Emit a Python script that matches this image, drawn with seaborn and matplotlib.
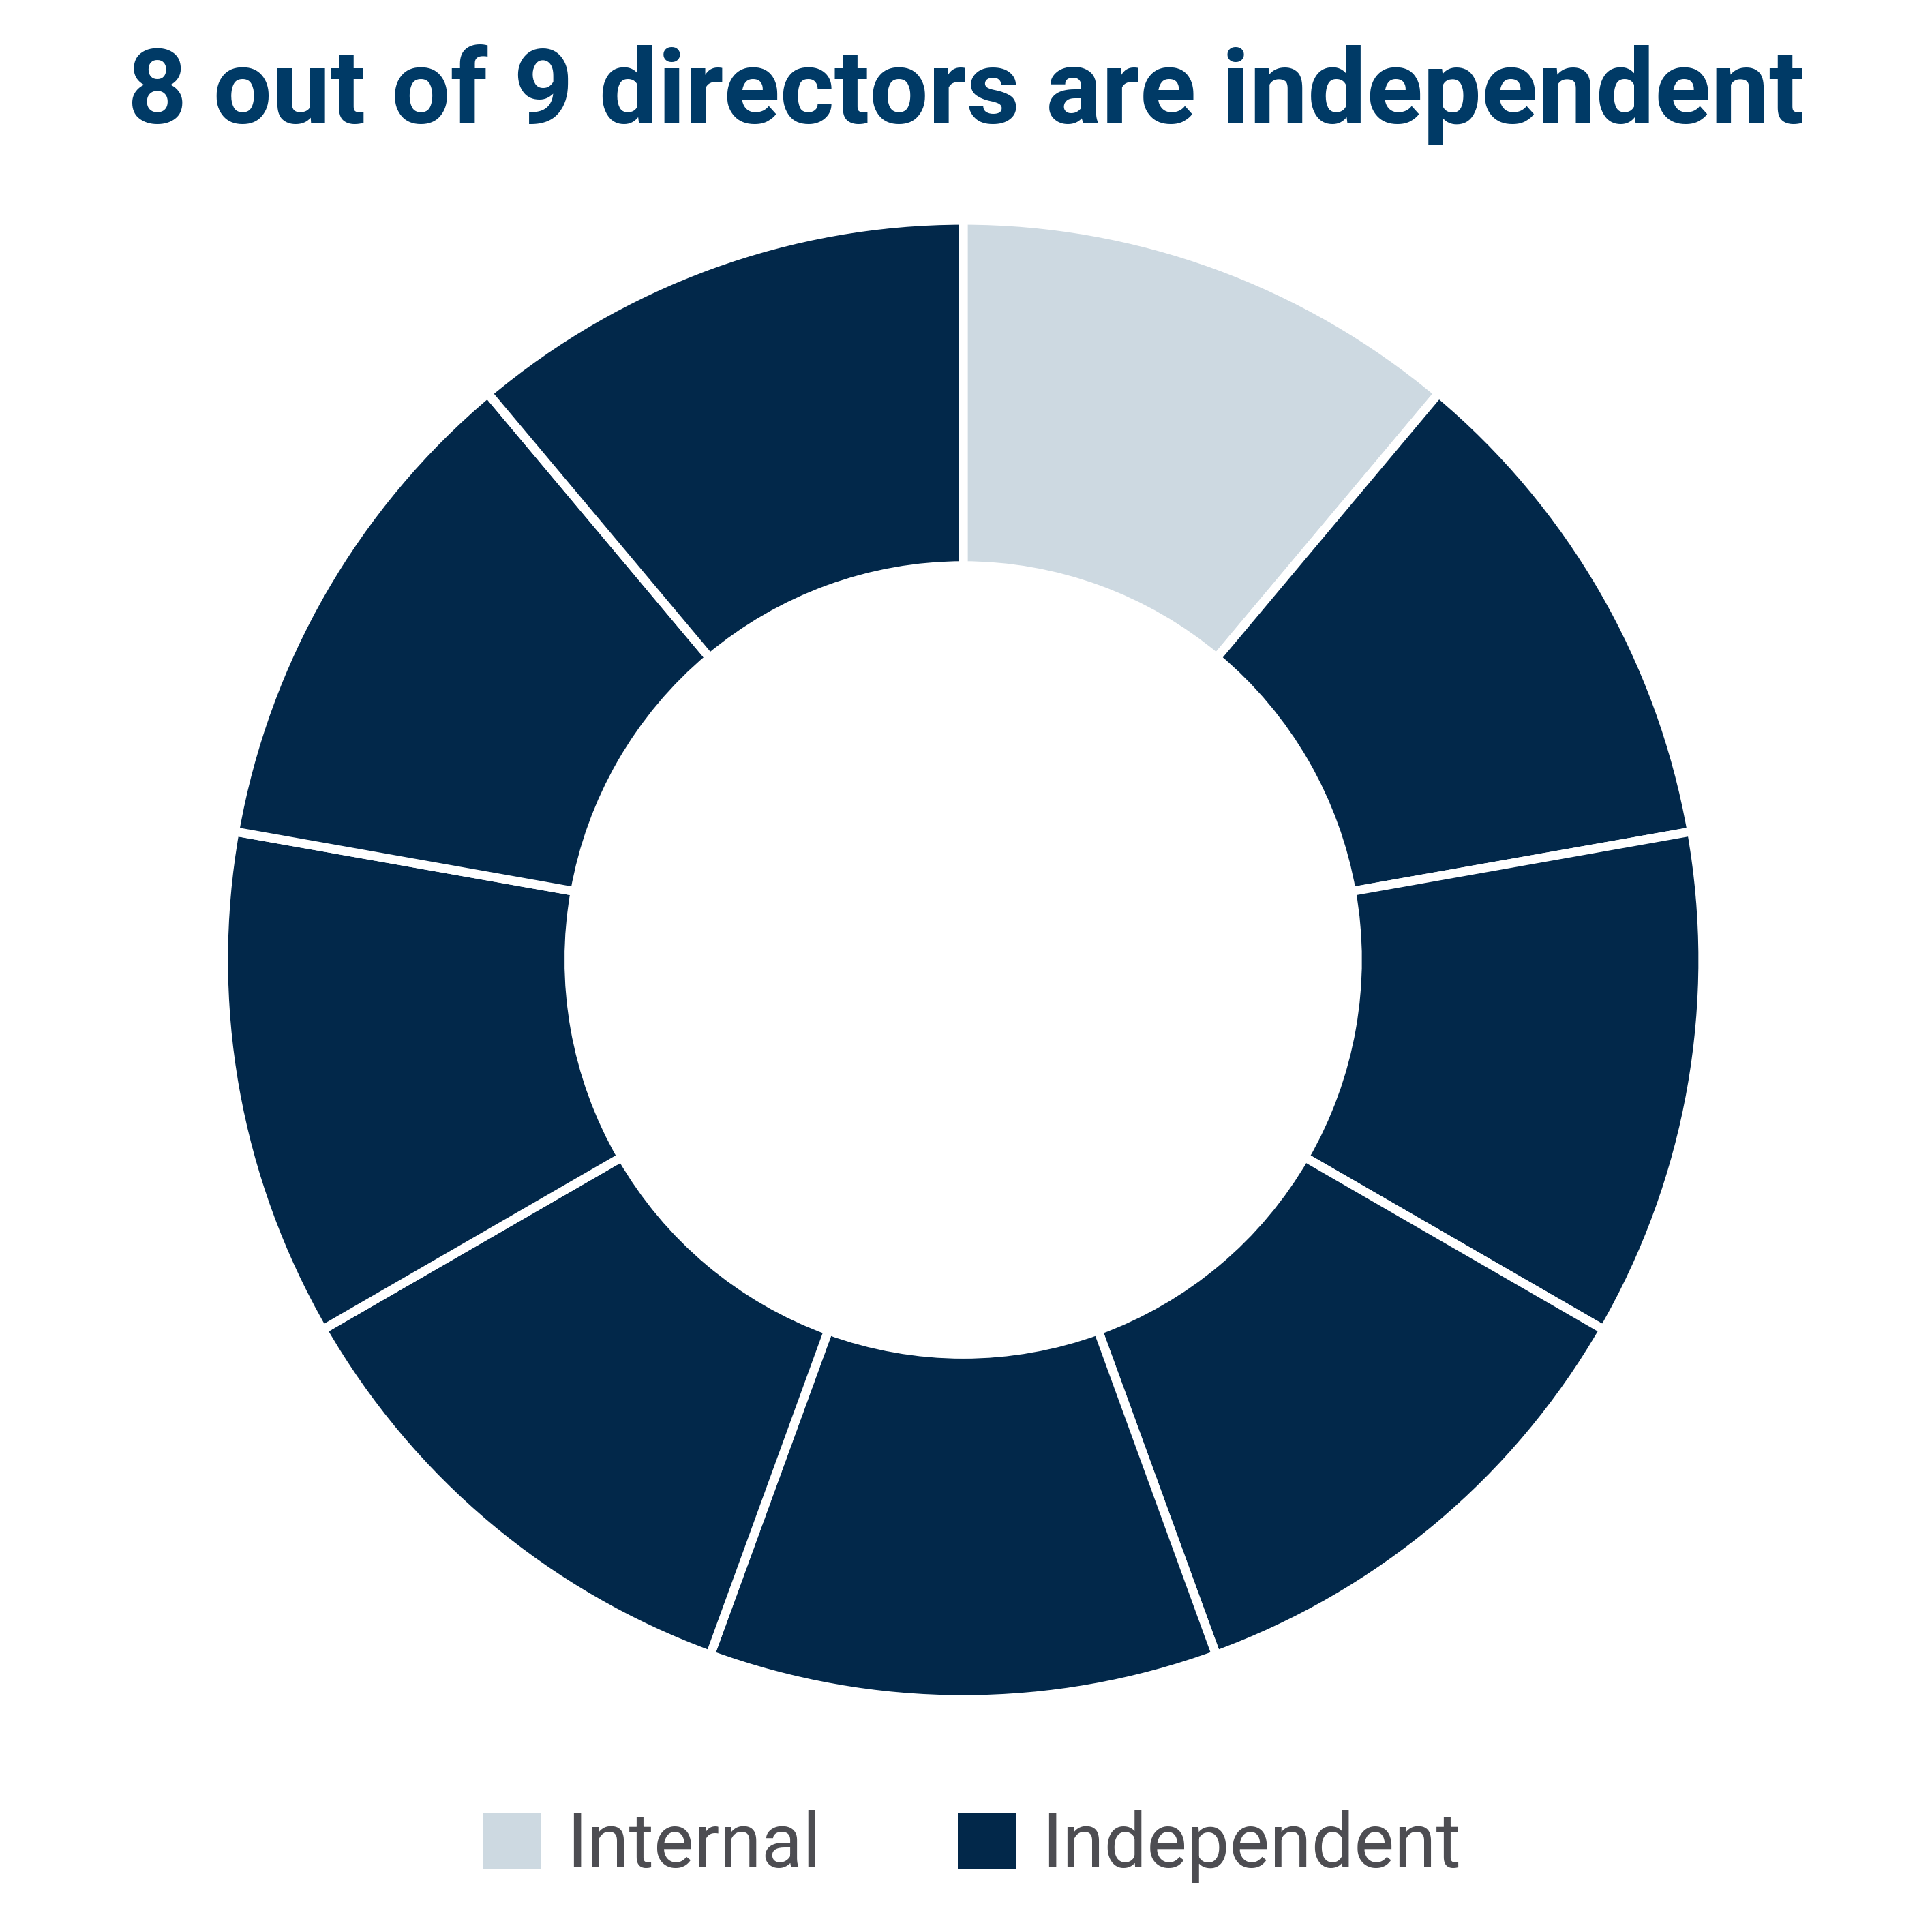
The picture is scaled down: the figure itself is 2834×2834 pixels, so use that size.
import matplotlib
matplotlib.use('Agg')
import matplotlib.pyplot as plt
from matplotlib.patches import Patch
import seaborn as sns

sns.set_theme(style='white')
plt.rcParams['font.family'] = ['Roboto', 'DejaVu Sans']

# Dados: um assento por diretor
categories = ['Internal', 'Independent']
category_colors = ['#cdd9e1', '#02284a']
directors = ['Internal'] + ['Independent'] * 8
seats = [1] * len(directors)
title = '8 out of 9 directors are independent'

fig = plt.figure(figsize=(14.17, 14.17), dpi=200)
fig.patch.set_facecolor('white')

ax = fig.add_axes([0.1157, 0.1203, 0.7657, 0.7657])
colors = [category_colors[categories.index(d)] for d in directors]
ax.pie(seats, colors=colors, startangle=90, counterclock=False, radius=1,
       wedgeprops=dict(width=0.467, edgecolor='white', linewidth=4.7))
ax.set_xlim(-1, 1)
ax.set_ylim(-1, 1)
ax.set_aspect('equal')
ax.axis('off')

fig.text(0.5, 0.936, title, ha='center', va='baseline', fontsize=55,
         fontweight='bold', color='#003a66')

handles = [Patch(facecolor=c, edgecolor='none', label=l)
           for l, c in zip(categories, category_colors)]
fig.legend(handles=handles, loc='center', bbox_to_anchor=(0.503, 0.0443), ncol=2,
           frameon=False, fontsize=40, handlelength=0.77, handleheight=0.77,
           handletextpad=0.34, columnspacing=1.80, labelcolor='#4d4d52')

fig.savefig('out.png', dpi=200, facecolor='white')
plt.close()
